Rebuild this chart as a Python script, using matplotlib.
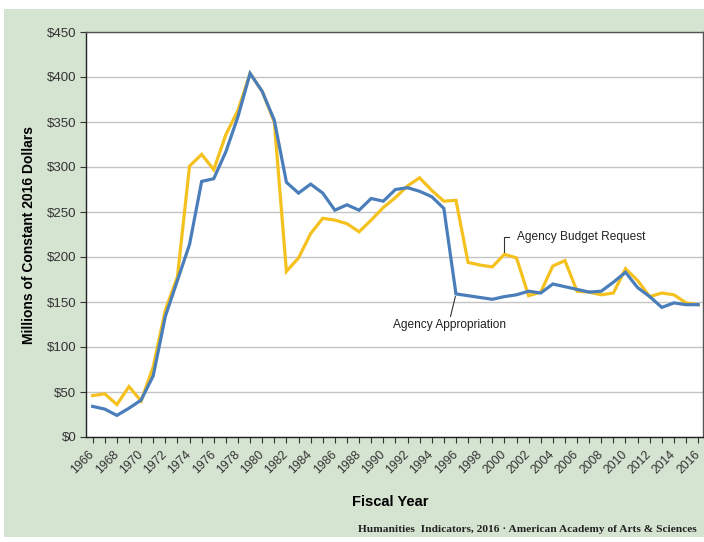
import matplotlib.pyplot as plt
from matplotlib.patches import Rectangle
import numpy as np

years = list(range(1966, 2017))
request = [46, 48, 36, 56, 40, 78, 141, 178, 301, 314,
           297, 336, 363, 404, 384, 350, 184, 199, 226, 243,
           241, 237, 228, 241, 255, 266, 279, 288, 274, 262,
           263, 194, 191, 189, 203, 199, 157, 161, 190, 196,
           162, 161, 158, 160, 187, 174, 156, 160, 158, 149,
           147]
appropriation = [34, 31, 24, 32, 41, 68, 134, 174, 214, 284,
                 287, 317, 356, 404, 384, 352, 283, 271, 281, 271,
                 252, 258, 252, 265, 262, 275, 277, 273, 267, 254,
                 159, 157, 155, 153, 156, 158, 162, 160, 170, 167,
                 164, 161, 162, 172, 183, 166, 156, 144, 149, 147,
                 147]
yticks = list(range(0, 451, 50))
ytick_labels = ['$' + str(v) for v in yticks]
xtick_years = list(range(1966, 2017, 2))

plt.rcParams['font.family'] = ['Liberation Sans', 'DejaVu Sans']

fig = plt.figure(figsize=(7.04, 5.42), dpi=100)
fig.patch.set_facecolor('white')
fig.patches.append(Rectangle((4 / 704, 5 / 542), 1 - 4 / 704, 1 - 14 / 542,
                             transform=fig.transFigure, facecolor='#d5e3d1',
                             edgecolor='none', zorder=-10))

ax = fig.add_axes([86 / 704, 105 / 542, 617 / 704, 405 / 542])
ax.set_zorder(1)
ax.set_facecolor('white')

ax.plot(years, request, color='#f5c11f', lw=2.3, solid_joinstyle='miter', zorder=3)
ax.plot(years, appropriation, color='#4a7ebb', lw=2.3, solid_joinstyle='miter', zorder=4)

ax.set_xlim(1965.45, 2016.4)
ax.set_ylim(0, 450)
ax.set_yticks(yticks)
ax.set_yticklabels(ytick_labels, fontsize=9.5, color='#333333')
ax.set_xticks(years, minor=True)
ax.set_xticks(xtick_years)
ax.set_xticklabels([str(y) for y in xtick_years], rotation=45, ha='right',
                   va='center', rotation_mode='anchor', fontsize=8.8, color='#333333')
ax.tick_params(axis='x', which='both', direction='out', length=4, width=0.8,
               color='#333333', pad=7)
ax.tick_params(axis='y', direction='out', length=4, width=0.8, color='#333333', pad=3)
ax.grid(axis='y', color='#c4c4c4', lw=1)
ax.set_axisbelow(True)
for side in ['left', 'bottom']:
    ax.spines[side].set_color('#222222')
    ax.spines[side].set_linewidth(1)
for side in ['top', 'right']:
    ax.spines[side].set_color('#555555')
    ax.spines[side].set_linewidth(1)

ax.set_ylabel('Millions of Constant 2016 Dollars', fontsize=10, fontweight='bold',
              labelpad=8)
fig.text(390 / 704, 1 - 502 / 542, 'Fiscal Year', fontsize=10.5, fontweight='bold',
         ha='center', va='center')
fig.text(697 / 704, 1 - 529 / 542,
         'Humanities  Indicators, 2016 \u00b7 American Academy of Arts & Sciences',
         family=['Liberation Serif', 'DejaVu Serif'], fontweight='bold', fontsize=8.2,
         color='#222222', ha='right', va='center')

# callouts
ax.plot([2000, 2000, 2000.35], [206, 222.5, 222.5], color='#333333', lw=0.8, zorder=5)
ax.text(2001.0, 222, 'Agency Budget Request', fontsize=8.6, color='#222222',
        ha='left', va='center')
ax.plot([1995.95, 1995.55], [156, 134], color='#333333', lw=0.8, zorder=5)
ax.text(1990.8, 124.5, 'Agency Appropriation', fontsize=8.6, color='#222222',
        ha='left', va='center')

fig.savefig('out.png', dpi=100)
